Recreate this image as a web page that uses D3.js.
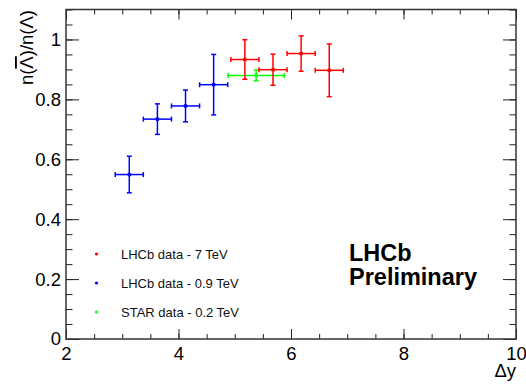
<!DOCTYPE html>
<html lang="en">
<head>
<meta charset="UTF-8">
<title>Lambda ratio</title>
<script src="https://cdn.jsdelivr.net/npm/d3@7"></script>
<style>
  body { margin: 0; background: #fff; }
  svg text { font-family: "Liberation Sans", Arial, sans-serif; }
</style>
</head>
<body>
<div id="chart"></div>
<script>
// datos
const lhcb7Dy   = [5.18, 5.68, 6.18, 6.68];
const lhcb7Val  = [0.933, 0.899, 0.953, 0.897];
const lhcb7Err  = [0.066, 0.052, 0.059, 0.088];
const lhcb7XErr = [0.25, 0.25, 0.25, 0.25];

const lhcb09Dy   = [3.125, 3.625, 4.125, 4.625];
const lhcb09Val  = [0.549, 0.734, 0.778, 0.849];
const lhcb09Err  = [0.061, 0.051, 0.053, 0.101];
const lhcb09XErr = [0.25, 0.25, 0.25, 0.25];

const starDy   = [5.38];
const starVal  = [0.88];
const starErr  = [0.018];
const starXErr = [0.5];

const legendLabels = ["LHCb data - 7 TeV", "LHCb data - 0.9 TeV", "STAR data - 0.2 TeV"];
const xTicks = [2, 4, 6, 8, 10];
const yTicks = [0, 0.2, 0.4, 0.6, 0.8, 1];

const W = 526, H = 384;
const margin = { top: 9.5, right: 10, bottom: 45, left: 66 };

const svg = d3.select("#chart").append("svg")
  .attr("width", W).attr("height", H);

const x = d3.scaleLinear().domain([2, 10]).range([margin.left, W - margin.right]);
const y = d3.scaleLinear().domain([0, 1.1]).range([H - margin.bottom, margin.top]);

// ejes con ticks hacia adentro (estilo ROOT)
const xMinor = d3.range(2, 10.01, 0.5);
const yMinor = d3.range(0, 1.101, 0.05);

function tickAxis(axis, transform, labels) {
  const g = svg.append("g").attr("transform", transform).call(axis);
  g.select(".domain").remove();
  g.selectAll(".tick line").attr("stroke", "#222").attr("stroke-width", 1);
  if (!labels) g.selectAll("text").remove();
  return g;
}

const y0 = H - margin.bottom, yTop = margin.top;
// abajo
tickAxis(d3.axisBottom(x).tickValues(xMinor).tickSize(-5).tickFormat(""), `translate(0,${y0})`, false);
const gx = tickAxis(d3.axisBottom(x).tickValues(xTicks).tickSize(-10).tickPadding(8).tickFormat(d3.format("d")), `translate(0,${y0})`, true);
gx.selectAll("text").attr("font-size", 18.5).attr("fill", "#000");
// arriba
tickAxis(d3.axisTop(x).tickValues(xMinor).tickSize(-5).tickFormat(""), `translate(0,${yTop})`, false);
tickAxis(d3.axisTop(x).tickValues(xTicks).tickSize(-10).tickFormat(""), `translate(0,${yTop})`, false);
// izquierda
tickAxis(d3.axisLeft(y).tickValues(yMinor).tickSize(-6.5).tickFormat(""), `translate(${margin.left},0)`, false);
const gy = tickAxis(d3.axisLeft(y).tickValues(yTicks).tickSize(-13).tickPadding(5).tickFormat(d => d === 0 || d === 1 ? d3.format("d")(d) : d3.format(".1f")(d)), `translate(${margin.left},0)`, true);
gy.selectAll("text").attr("font-size", 18.5).attr("fill", "#000");
// derecha
tickAxis(d3.axisRight(y).tickValues(yMinor).tickSize(-6.5).tickFormat(""), `translate(${W - margin.right},0)`, false);
tickAxis(d3.axisRight(y).tickValues(yTicks).tickSize(-13).tickFormat(""), `translate(${W - margin.right},0)`, false);

// marco
svg.append("rect")
  .attr("x", margin.left).attr("y", yTop)
  .attr("width", W - margin.right - margin.left)
  .attr("height", y0 - yTop)
  .attr("fill", "none").attr("stroke", "#333").attr("stroke-width", 1.5);

// titulos de ejes
svg.append("text")
  .attr("x", W - margin.right).attr("y", 377)
  .attr("text-anchor", "end").attr("font-size", 18.5)
  .text("\u0394y");

const ylab = svg.append("text")
  .attr("transform", "translate(33,10) rotate(-90)")
  .attr("text-anchor", "end").attr("font-size", 18.5);
ylab.append("tspan").text("n(");
ylab.append("tspan").style("text-decoration", "overline").text("\u039B");
ylab.append("tspan").text(")/n(\u039B)");

// puntos con barras de error
function series(dy, val, err, xerr, color) {
  const data = dy.map((d, i) => ({ x: d, y: val[i], ey: err[i], ex: xerr[i] }));
  const g = svg.append("g").attr("stroke", color).attr("stroke-width", 1.5);
  const cap = 2.5;
  data.forEach(d => {
    const cx = x(d.x), cy = y(d.y);
    const x1 = x(d.x - d.ex), x2 = x(d.x + d.ex);
    const ya = y(d.y + d.ey), yb = y(d.y - d.ey);
    g.append("line").attr("x1", x1).attr("x2", x2).attr("y1", cy).attr("y2", cy);
    g.append("line").attr("x1", cx).attr("x2", cx).attr("y1", ya).attr("y2", yb);
    g.append("line").attr("x1", x1).attr("x2", x1).attr("y1", cy - cap).attr("y2", cy + cap);
    g.append("line").attr("x1", x2).attr("x2", x2).attr("y1", cy - cap).attr("y2", cy + cap);
    g.append("line").attr("x1", cx - cap).attr("x2", cx + cap).attr("y1", ya).attr("y2", ya);
    g.append("line").attr("x1", cx - cap).attr("x2", cx + cap).attr("y1", yb).attr("y2", yb);
    g.append("rect").attr("x", cx - 1.7).attr("y", cy - 1.7)
      .attr("width", 3.4).attr("height", 3.4).attr("fill", color).attr("stroke", "none");
  });
}
series(lhcb09Dy, lhcb09Val, lhcb09Err, lhcb09XErr, "#0000ff");
series(starDy, starVal, starErr, starXErr, "#00ff00");
series(lhcb7Dy, lhcb7Val, lhcb7Err, lhcb7XErr, "#ff0000");

// leyenda
const legColors = ["#ff0000", "#0000ff", "#00ff00"];
legendLabels.forEach((t, i) => {
  const ly = 254 + i * 29;
  svg.append("circle").attr("cx", 96.5).attr("cy", ly).attr("r", 1.6).attr("fill", legColors[i]);
  svg.append("text").attr("x", 121).attr("y", ly + 4.5).attr("font-size", 13).attr("fill", "#111").text(t);
});

// etiqueta LHCb
svg.append("text").attr("x", 349).attr("y", 261)
  .attr("font-size", 23.5).attr("font-weight", "bold").text("LHCb");
svg.append("text").attr("x", 349).attr("y", 285)
  .attr("font-size", 23.5).attr("font-weight", "bold").text("Preliminary");
</script>
</body>
</html>
